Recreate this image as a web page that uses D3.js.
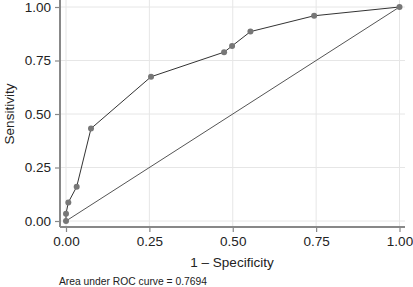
<!DOCTYPE html>
<html><head><meta charset="utf-8">
<script src="https://cdn.jsdelivr.net/npm/d3@7"></script>
<style>body{margin:0;background:#fff}svg{display:block}text{font-family:"Liberation Sans",Arial,sans-serif}</style>
</head><body>
<svg id="c" width="413" height="287"></svg>
<script>
const fpr = [0, 0, 0.007, 0.032, 0.075, 0.255, 0.474, 0.498, 0.553, 0.744, 1];
const tpr = [0, 0.034, 0.087, 0.16, 0.432, 0.674, 0.789, 0.818, 0.885, 0.959, 1];
const xTicks = [0, 0.25, 0.5, 0.75, 1];
const yTicks = [0, 0.25, 0.5, 0.75, 1];
const xLabel = "1 – Specificity";
const yLabel = "Sensitivity";
const note = "Area under ROC curve = 0.7694";

const svg = d3.select("#c");
const x = d3.scaleLinear().domain([0,1]).range([66,399.5]);
const y = d3.scaleLinear().domain([0,1]).range([221,7]);
const pLeft = 60, pBottom = 227, pRight = 405, pTop = 0;

// grid
svg.append("g").selectAll("line").data(xTicks).join("line")
  .attr("x1",d=>x(d)).attr("x2",d=>x(d)).attr("y1",pTop).attr("y2",pBottom)
  .attr("stroke","#e6e6e6").attr("stroke-width",1);
svg.append("g").selectAll("line").data(yTicks).join("line")
  .attr("y1",d=>y(d)).attr("y2",d=>y(d)).attr("x1",pLeft).attr("x2",pRight)
  .attr("stroke","#e6e6e6").attr("stroke-width",1);

// axes
const xa = svg.append("g").attr("transform",`translate(0,${pBottom})`)
  .call(d3.axisBottom(x).tickValues(xTicks).tickFormat(d3.format(".2f")).tickSize(5).tickPadding(4));
const ya = svg.append("g").attr("transform",`translate(${pLeft},0)`)
  .call(d3.axisLeft(y).tickValues(yTicks).tickFormat(d3.format(".2f")).tickSize(5).tickPadding(4));
[xa,ya].forEach(a=>{
  a.select(".domain").remove();
  a.selectAll(".tick line").attr("stroke","#888").attr("stroke-width",1.2);
  a.selectAll(".tick text").attr("fill","#222").style("font-size","13.5px").style("font-family",'"Liberation Sans",Arial,sans-serif');
});
svg.append("line").attr("x1",pLeft).attr("x2",pRight).attr("y1",pBottom).attr("y2",pBottom).attr("stroke","#888").attr("stroke-width",2);
svg.append("line").attr("x1",pLeft).attr("x2",pLeft).attr("y1",pTop).attr("y2",pBottom).attr("stroke","#888").attr("stroke-width",2);

// diagonal
svg.append("line").attr("x1",x(0)).attr("y1",y(0)).attr("x2",x(1)).attr("y2",y(1))
  .attr("stroke","#555").attr("stroke-width",1);

// ROC line
const pts = fpr.map((f,i)=>[f,tpr[i]]);
svg.append("path").datum(pts)
  .attr("d",d3.line().x(d=>x(d[0])).y(d=>y(d[1])))
  .attr("fill","none").attr("stroke","#333").attr("stroke-width",1);
svg.append("g").selectAll("circle").data(pts).join("circle")
  .attr("cx",d=>x(d[0])).attr("cy",d=>y(d[1])).attr("r",3).attr("fill","#777");

// labels
svg.append("text").attr("x",232).attr("y",267).attr("text-anchor","middle")
  .attr("fill","#222").style("font-size","13.5px").text(xLabel);
svg.append("text").attr("transform","translate(13.5,114) rotate(-90)").attr("text-anchor","middle")
  .attr("fill","#222").style("font-size","13.5px").text(yLabel);
svg.append("text").attr("x",59).attr("y",284.5)
  .attr("fill","#222").style("font-size","10.3px").text(note);
</script>
</body></html>
